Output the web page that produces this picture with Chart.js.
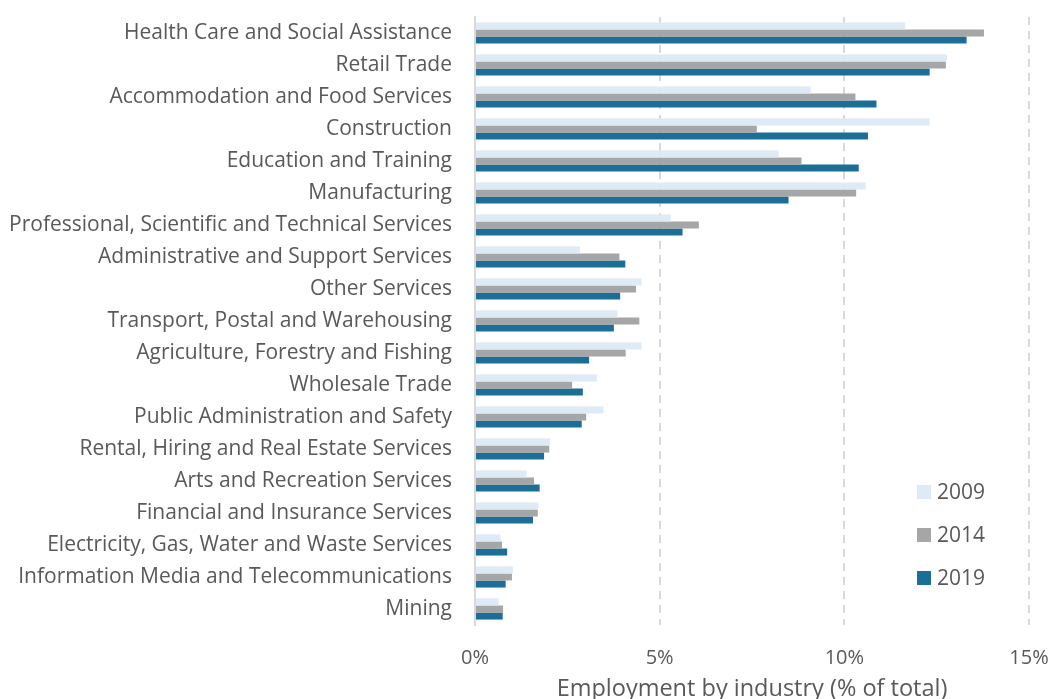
<!DOCTYPE html>
<html>
<head>
<meta charset="utf-8">
<script src="https://cdn.jsdelivr.net/npm/chart.js@4.4.1/dist/chart.umd.min.js"></script>
<style>
  html, body { margin: 0; padding: 0; background: #ffffff; }
  #wrap { width: 1051px; height: 699px; position: relative; }
</style>
</head>
<body>
<div id="wrap"><canvas id="chart" width="1051" height="699"></canvas></div>
<script>
// Industries, top to bottom
const industries = [
  "Health Care and Social Assistance",
  "Retail Trade",
  "Accommodation and Food Services",
  "Construction",
  "Education and Training",
  "Manufacturing",
  "Professional, Scientific and Technical Services",
  "Administrative and Support Services",
  "Other Services",
  "Transport, Postal and Warehousing",
  "Agriculture, Forestry and Fishing",
  "Wholesale Trade",
  "Public Administration and Safety",
  "Rental, Hiring and Real Estate Services",
  "Arts and Recreation Services",
  "Financial and Insurance Services",
  "Electricity, Gas, Water and Waste Services",
  "Information Media and Telecommunications",
  "Mining"
];

// Share of total employment (%)
const years = ["2009", "2014", "2019"];
const share2009 = [11.65, 12.78, 9.09, 12.31, 8.22, 10.58, 5.30, 2.84, 4.51, 3.86, 4.51, 3.30, 3.48, 2.03, 1.40, 1.72, 0.69, 1.03, 0.64];
const share2014 = [13.78, 12.75, 10.30, 7.63, 8.84, 10.32, 6.06, 3.91, 4.36, 4.45, 4.08, 2.63, 3.01, 2.01, 1.60, 1.70, 0.73, 1.00, 0.76];
const share2019 = [13.31, 12.31, 10.87, 10.64, 10.39, 8.49, 5.62, 4.07, 3.93, 3.76, 3.09, 2.92, 2.89, 1.87, 1.75, 1.57, 0.87, 0.83, 0.75];

const xTicks = [0, 5, 10, 15];
const seriesColors = ["#deeaf6", "#a6a6a6", "#1b6f96"];

const FONT = "'Open Sans', Lato, sans-serif";
const TEXT = "#595959";

// Vertical legend in the lower right of the plot area
const sideLegend = {
  id: "sideLegend",
  afterDraw(chart) {
    const ctx = chart.ctx;
    const x0 = 917, y0 = 492, gap = 43, box = 14;
    ctx.save();
    ctx.font = "21px " + FONT;
    ctx.textBaseline = "middle";
    ctx.textAlign = "left";
    chart.data.datasets.forEach((ds, i) => {
      const y = y0 + i * gap;
      ctx.fillStyle = ds.backgroundColor;
      ctx.fillRect(x0, y - box / 2, box, box);
      ctx.fillStyle = TEXT;
      ctx.fillText(ds.label, x0 + 20, y + 1);
    });
    ctx.restore();
  }
};

const seriesData = [share2009, share2014, share2019];

new Chart(document.getElementById("chart"), {
  type: "bar",
  data: {
    labels: industries,
    datasets: years.map((y, i) => ({
      label: y,
      data: seriesData[i],
      backgroundColor: seriesColors[i],
      borderWidth: 0,
      categoryPercentage: 0.66,
      barPercentage: 1.0
    }))
  },
  options: {
    indexAxis: "y",
    responsive: false,
    animation: false,
    layout: { padding: { left: 0, right: 22, top: 17, bottom: 0 } },
    plugins: {
      legend: { display: false },
      tooltip: { enabled: false }
    },
    scales: {
      x: {
        min: 0,
        max: 15,
        afterBuildTicks(scale) { scale.ticks = xTicks.map(v => ({ value: v })); },
        afterFit(scale) {
          scale.height = 74;
          scale.paddingLeft = 0;
          scale.paddingRight = 0;
        },
        grid: {
          drawTicks: false,
          lineWidth: 2,
          color: ctx => (ctx.tick && ctx.tick.value === 0) ? "rgba(0,0,0,0)" : "#d9d9d9"
        },
        border: { display: false, dash: [8, 6] },
        ticks: {
          padding: 21,
          color: TEXT,
          font: { family: FONT, size: 20 },
          callback: v => v + "%"
        },
        title: {
          display: true,
          text: "Employment by industry (% of total)",
          color: TEXT,
          font: { family: FONT, size: 23.5 },
          padding: { top: 2, bottom: -4 }
        }
      },
      y: {
        afterFit(scale) {
          scale.width = 475;
          scale.paddingTop = 0;
          scale.paddingBottom = 0;
        },
        grid: { display: false, drawTicks: false },
        border: { display: true, color: "#d9d9d9", width: 2 },
        ticks: {
          padding: 23,
          color: TEXT,
          autoSkip: false,
          font: { family: FONT, size: 21 }
        }
      }
    }
  },
  plugins: [sideLegend]
});
</script>
</body>
</html>
